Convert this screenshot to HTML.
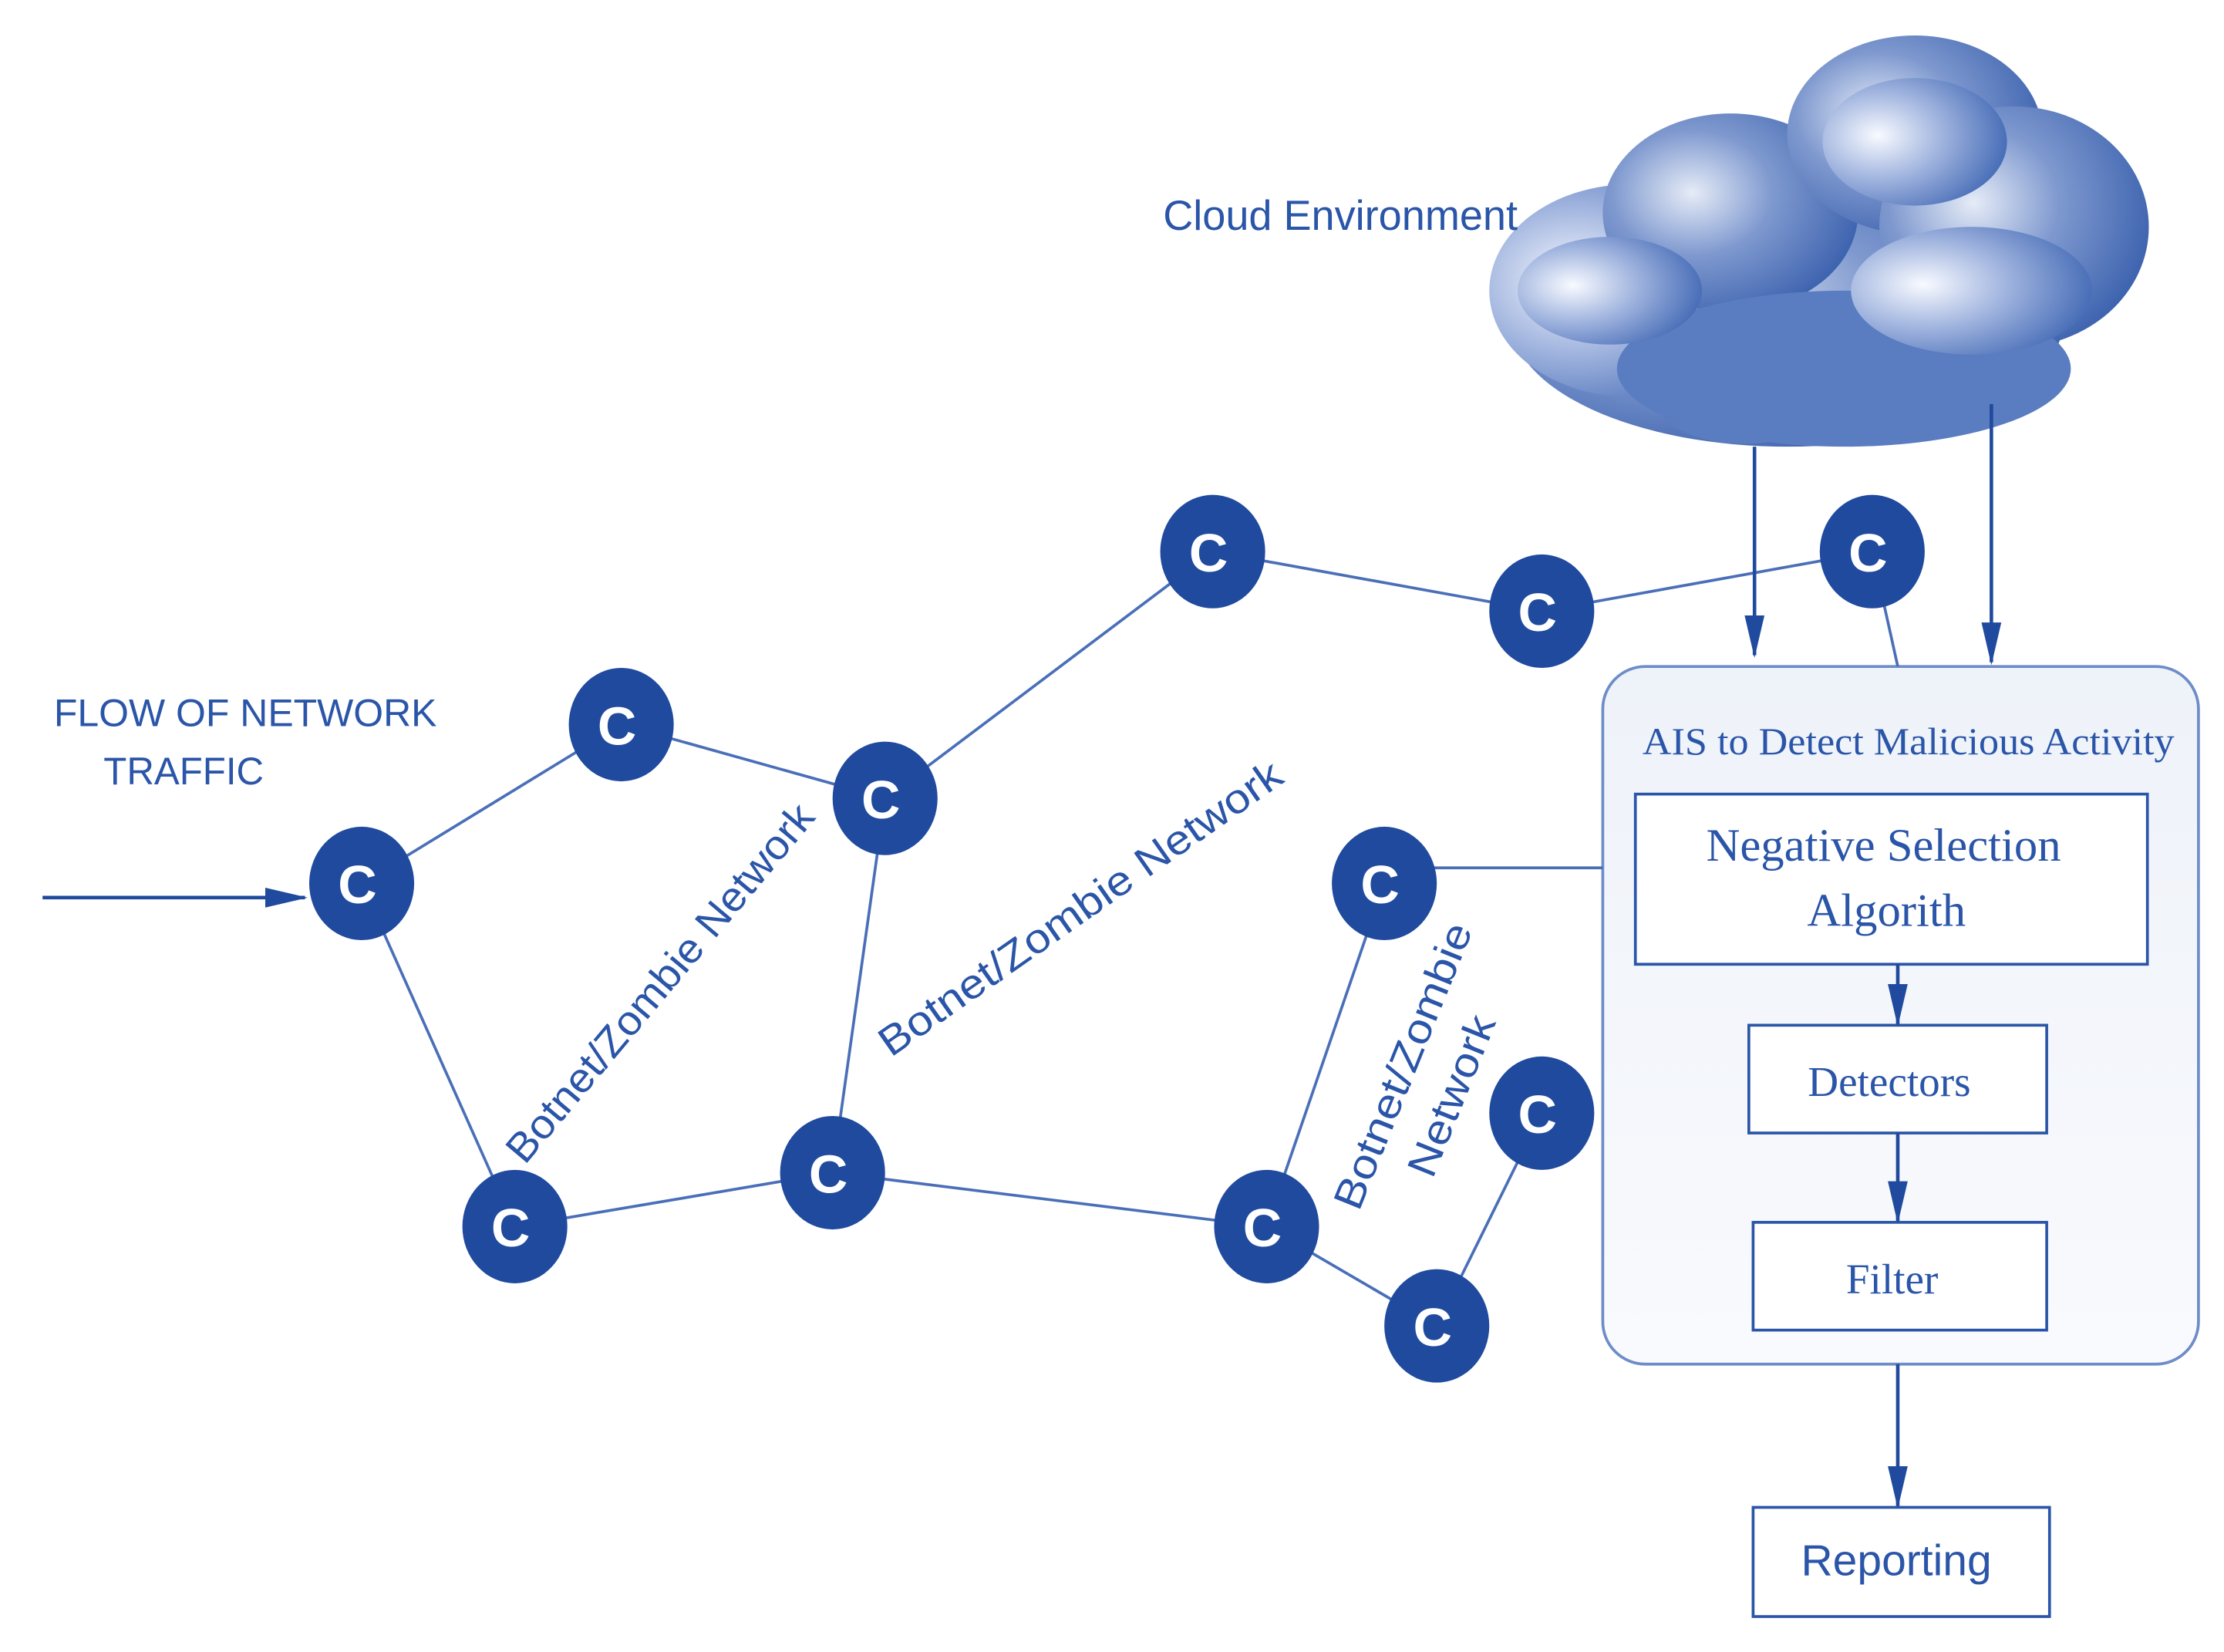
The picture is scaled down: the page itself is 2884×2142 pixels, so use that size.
<!DOCTYPE html>
<html><head><style>html,body{margin:0;padding:0;background:#fff}svg{display:block}</style></head>
<body>
<svg width="2884" height="2142" viewBox="0 0 1568 1165" preserveAspectRatio="none" xmlns="http://www.w3.org/2000/svg" font-family="Liberation Sans, sans-serif">
<defs>
<radialGradient id="cg" cx="0.35" cy="0.4" r="0.7"><stop offset="0" stop-color="#e6ecf7"/><stop offset="0.45" stop-color="#7f99cf"/><stop offset="1" stop-color="#3a60ad"/></radialGradient>
<radialGradient id="cg2" cx="0.3" cy="0.45" r="0.7"><stop offset="0" stop-color="#f8faff"/><stop offset="0.5" stop-color="#9fb3de"/><stop offset="1" stop-color="#4a6fb8"/></radialGradient>
<linearGradient id="bg" x1="0" y1="0" x2="0" y2="1"><stop offset="0" stop-color="#eef2f9"/><stop offset="1" stop-color="#f9fafd"/></linearGradient>
<marker id="ah2" markerWidth="30" markerHeight="16" refX="28" refY="8" orient="auto" markerUnits="userSpaceOnUse" viewBox="0 0 30 16"><path d="M0,1 L30,8 L0,15 z" fill="#1f4a9e"/></marker>
</defs>
<!-- cloud -->
<g>
<ellipse cx="1260" cy="225" rx="195" ry="90" fill="url(#cg)"/>
<ellipse cx="1150" cy="205" rx="100" ry="75" fill="url(#cg2)"/>
<ellipse cx="1220" cy="150" rx="90" ry="70" fill="url(#cg)"/>
<ellipse cx="1350" cy="95" rx="90" ry="70" fill="url(#cg)"/>
<ellipse cx="1420" cy="160" rx="95" ry="85" fill="url(#cg)"/>
<ellipse cx="1300" cy="260" rx="160" ry="55" fill="#5a7cc0"/>
<ellipse cx="1230" cy="285" rx="60" ry="28" fill="#5a7cc0"/>
<ellipse cx="1390" cy="205" rx="85" ry="45" fill="url(#cg2)"/>
<ellipse cx="1350" cy="100" rx="65" ry="45" fill="url(#cg2)"/>
<ellipse cx="1135" cy="205" rx="65" ry="38" fill="url(#cg2)"/>
</g>
<text x="820" y="162" font-size="30" fill="#2a55a8" textLength="250" lengthAdjust="spacingAndGlyphs">Cloud Environment</text>
<text x="38" y="512" font-size="27" fill="#2a55a8" textLength="270" lengthAdjust="spacingAndGlyphs">FLOW OF NETWORK</text>
<text x="73" y="553" font-size="27" fill="#2a55a8" textLength="113" lengthAdjust="spacingAndGlyphs">TRAFFIC</text>
<!-- AIS box -->
<rect x="1130" y="470" width="420" height="492" rx="30" fill="url(#bg)" stroke="#6d8cc8" stroke-width="2"/>
<text x="1158" y="532" font-family="Liberation Serif, serif" font-size="27" fill="#2a55a8" textLength="375" lengthAdjust="spacingAndGlyphs">AIS to Detect Malicious Activity</text>
<g fill="#fff" stroke="#2a55a8" stroke-width="2">
<rect x="1153" y="560" width="361" height="120"/>
<rect x="1233" y="723" width="210" height="76"/>
<rect x="1236" y="862" width="207" height="76"/>
<rect x="1236" y="1063" width="209" height="77"/>
</g>
<g font-family="Liberation Serif, serif" font-size="33" fill="#2a55a8" text-anchor="middle">
<text x="1328" y="607">Negative Selection</text>
<text x="1330" y="653">Algorith</text>
<text x="1332" y="773" font-size="30">Detectors</text>
<text x="1334" y="912" font-size="30">Filter</text>
<text x="1337" y="1111" font-family="Liberation Sans, sans-serif" font-size="31">Reporting</text>
</g>
<!-- connectors -->
<g stroke="#4a6fb8" stroke-width="2" fill="none">
<line x1="255" y1="623" x2="438" y2="511"/>
<line x1="438" y1="511" x2="624" y2="563"/>
<line x1="624" y1="563" x2="855" y2="389"/>
<line x1="855" y1="389" x2="1087" y2="431"/>
<line x1="1087" y1="431" x2="1320" y2="389"/>
<line x1="255" y1="623" x2="363" y2="865"/>
<line x1="624" y1="563" x2="587" y2="827"/>
<line x1="363" y1="865" x2="587" y2="827"/>
<line x1="587" y1="827" x2="893" y2="865"/>
<line x1="893" y1="865" x2="1013" y2="935"/>
<line x1="1013" y1="935" x2="1087" y2="785"/>
<line x1="976" y1="623" x2="893" y2="865"/>
<line x1="976" y1="612" x2="1130" y2="612"/>
<line x1="1320" y1="389" x2="1338" y2="470"/>
</g>
<g stroke="#1f4a9e" stroke-width="2.5" fill="none">
<line x1="30" y1="633" x2="215" y2="633" marker-end="url(#ah2)"/>
<line x1="1237" y1="315" x2="1237" y2="462" marker-end="url(#ah2)"/>
<line x1="1404" y1="285" x2="1404" y2="467" marker-end="url(#ah2)"/>
<line x1="1338" y1="680" x2="1338" y2="722" marker-end="url(#ah2)"/>
<line x1="1338" y1="799" x2="1338" y2="861" marker-end="url(#ah2)"/>
<line x1="1338" y1="962" x2="1338" y2="1062" marker-end="url(#ah2)"/>
</g>
<!-- nodes -->
<g fill="#1f4a9e">
<ellipse cx="255" cy="623" rx="37" ry="40"/>
<ellipse cx="438" cy="511" rx="37" ry="40"/>
<ellipse cx="624" cy="563" rx="37" ry="40"/>
<ellipse cx="855" cy="389" rx="37" ry="40"/>
<ellipse cx="1087" cy="431" rx="37" ry="40"/>
<ellipse cx="1320" cy="389" rx="37" ry="40"/>
<ellipse cx="976" cy="623" rx="37" ry="40"/>
<ellipse cx="1087" cy="785" rx="37" ry="40"/>
<ellipse cx="363" cy="865" rx="37" ry="40"/>
<ellipse cx="587" cy="827" rx="37" ry="40"/>
<ellipse cx="893" cy="865" rx="37" ry="40"/>
<ellipse cx="1013" cy="935" rx="37" ry="40"/>
</g>
<g fill="#fff" font-size="38" font-weight="bold" text-anchor="middle">
<text x="252" y="637">C</text><text x="435" y="525">C</text><text x="621" y="577">C</text>
<text x="852" y="403">C</text><text x="1084" y="445">C</text><text x="1317" y="403">C</text>
<text x="973" y="637">C</text><text x="1084" y="799">C</text><text x="360" y="879">C</text>
<text x="584" y="841">C</text><text x="890" y="879">C</text><text x="1010" y="949">C</text>
</g>
<g fill="#2a55a8" font-size="29">
<text transform="translate(370,822) rotate(-50)" textLength="320" lengthAdjust="spacingAndGlyphs">Botnet/Zombie  Network</text>
<text transform="translate(628,746) rotate(-35)" textLength="340" lengthAdjust="spacingAndGlyphs">Botnet/Zombie  Network</text>
<text transform="translate(958,855) rotate(-68)" textLength="215" lengthAdjust="spacingAndGlyphs">Botnet/Zombie</text>
<text transform="translate(1010,832) rotate(-68)" textLength="120" lengthAdjust="spacingAndGlyphs">Network</text>
</g>
</svg>
</body></html>
